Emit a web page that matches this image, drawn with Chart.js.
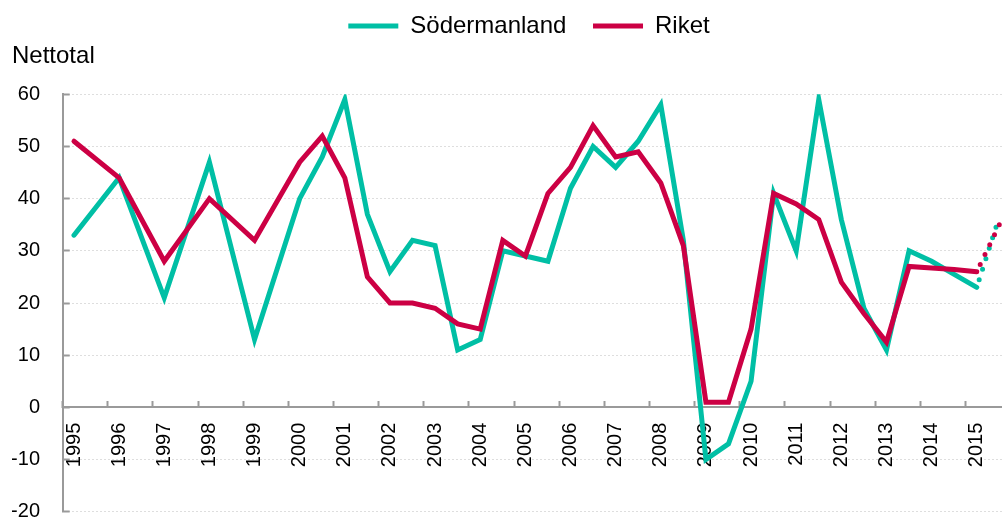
<!DOCTYPE html>
<html>
<head>
<meta charset="utf-8">
<script src="https://cdn.jsdelivr.net/npm/chart.js@4.4.1/dist/chart.umd.min.js"></script>
<style>
html,body{margin:0;padding:0;overflow:hidden;background:#fff}
#wrap{width:1002px;height:518px;overflow:hidden;position:relative}
canvas{display:block}
</style>
</head>
<body>
<div id="wrap"><canvas id="c" width="1046" height="518" style="width:1046px;height:518px"></canvas></div>
<script>
// Half-year periods (first label of each year shown, second half unlabeled)
const periodLabels = [
  '1995','', '1996','', '1997','', '1998','', '1999','',
  '2000','', '2001','', '2002','', '2003','', '2004','',
  '2005','', '2006','', '2007','', '2008','', '2009','',
  '2010','', '2011','', '2012','', '2013','', '2014','',
  '2015',''
];
const sodermanland = [
  33, null, 44, null, 21, null, 47, null, 13, null,
  40, 48, 59, 37, 26, 32, 31, 11, 13, 30,
  29, 28, 42, 50, 46, 51, 58, 32, -10, -7,
  5, 41, 30, 59, 36, 19, 11, 30, 28, 25.5,
  23, 36.5
];
const riket = [
  51, null, 44, null, 28, null, 40, null, 32, null,
  47, 52, 44, 25, 20, 20, 19, 16, 15, 32,
  29, 41, 46, 54, 48, 49, 43, 31, 1, 1,
  15, 41, 39, 36, 24, 18, 12.5, 27, 26.7, 26.4,
  26, 35
];
const seriesNames = ['Södermanland', 'Riket'];
const yMin = -20, yMax = 60, yStep = 10;
const forecastIndex = 41;

const TEAL = '#00BFA5';
const RED = '#CC0044';
const AXIS = '#9a9a9a';
const GRID = '#dedede';
const FONT = "Arial, 'Liberation Sans', sans-serif";

const common = {
  borderWidth: 5,
  pointRadius: 0,
  pointHoverRadius: 0,
  tension: 0,
  spanGaps: true,
  borderCapStyle: 'round',
  borderJoinStyle: 'miter',
  fill: false,
  segment: {
    borderDash: c => c.p1DataIndex === forecastIndex ? [0, 11] : undefined,
    borderDashOffset: c => c.p1DataIndex === forecastIndex ? -8 : undefined
  }
};

new Chart(document.getElementById('c'), {
  type: 'line',
  data: {
    labels: periodLabels,
    datasets: [
      Object.assign({ label: seriesNames[0], data: sodermanland, borderColor: TEAL, backgroundColor: TEAL, order: 1 }, common),
      Object.assign({ label: seriesNames[1], data: riket, borderColor: RED, backgroundColor: RED, order: 0 }, common)
    ]
  },
  options: {
    responsive: false,
    animation: false,
    devicePixelRatio: 1,
    events: [],
    layout: { padding: { left: 12, right: 0, top: -12.6, bottom: 6.3 } },
    plugins: {
      legend: {
        position: 'top',
        align: 'center',
        labels: {
          usePointStyle: true,
          pointStyle: 'line',
          pointStyleWidth: 50,
          padding: 26.6,
          color: '#000',
          font: { family: FONT, size: 24 },
          sort: (a, b) => a.datasetIndex - b.datasetIndex
        }
      },
      title: {
        display: true,
        text: 'Nettotal',
        align: 'start',
        position: 'top',
        weight: 500,
        color: '#000',
        font: { family: FONT, size: 24, weight: 'normal' },
        padding: { top: -5.7, bottom: 23.2 }
      },
      tooltip: { enabled: false }
    },
    scales: {
      x: {
        type: 'category',
        axis: 'x',
        position: { y: 0 },
        offset: true,
        grid: {
          display: true,
          offset: true,
          drawOnChartArea: false,
          drawTicks: true,
          tickLength: -7,
          tickWidth: 2,
          tickColor: c => (c.index % 2 === 0 ? AXIS : 'rgba(0,0,0,0)')
        },
        border: { display: true, color: AXIS, width: 2 },
        ticks: {
          autoSkip: false,
          minRotation: 90,
          maxRotation: 90,
          padding: 22.3,
          color: '#000',
          font: { family: FONT, size: 20 }
        }
      },
      y: {
        type: 'linear',
        position: 'left',
        min: yMin,
        max: yMax,
        ticks: {
          stepSize: yStep,
          padding: 29.7,
          color: '#000',
          font: { family: FONT, size: 20 }
        },
        grid: {
          color: c => (c.tick && c.tick.value === 0 ? 'rgba(0,0,0,0)' : GRID),
          lineWidth: 1,
          tickLength: -7,
          tickColor: AXIS,
          tickWidth: 2,
          tickBorderDash: []
        },
        border: { display: true, color: AXIS, width: 2, dash: [2, 2] },
        afterFit: s => { s.width = 50.7; s.paddingTop = 0; s.paddingBottom = 0; }
      },
      y2: {
        type: 'linear',
        position: 'right',
        display: true,
        grid: { display: false, drawTicks: false },
        border: { display: false },
        ticks: { display: false },
        afterFit: s => { s.width = 32; s.paddingTop = 0; s.paddingBottom = 0; }
      }
    }
  }
});
</script>
</body>
</html>
